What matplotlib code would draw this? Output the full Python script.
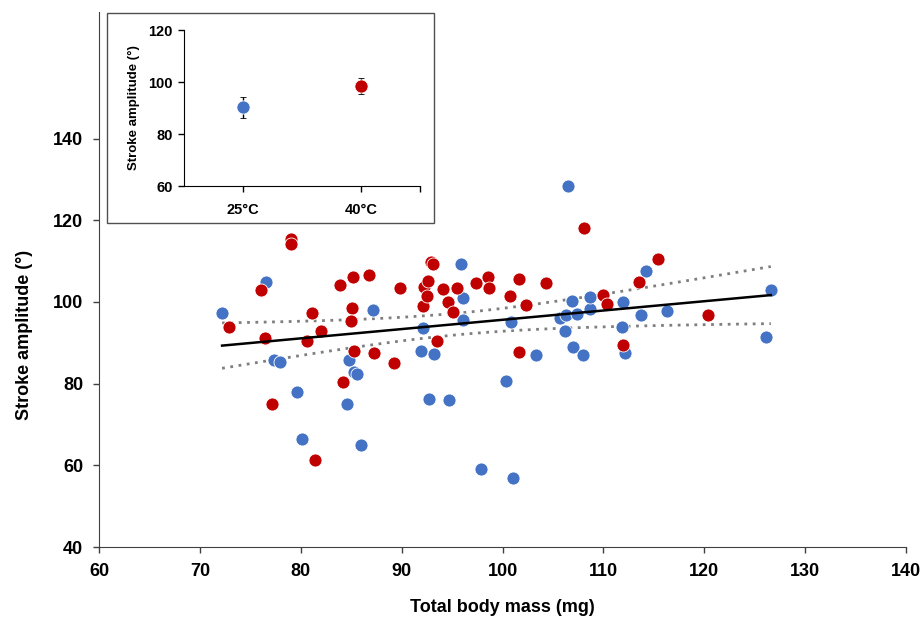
import numpy as np
import matplotlib.pyplot as plt
from matplotlib.patches import Rectangle

plt.rcParams['font.family'] = ['Liberation Sans', 'DejaVu Sans']
plt.rcParams['font.weight'] = 'bold'

# 25°C individuals (blue)
blue_x = [72.2, 76.6, 77.3, 77.9, 79.6, 80.1, 84.8, 84.6, 85.3, 85.6, 86.0, 87.2, 91.9, 92.1,
          92.7, 93.2, 94.7, 95.9, 96.1, 96.1, 97.9, 100.3, 100.8, 101.0, 103.3, 105.7, 106.2,
          106.3, 106.5, 106.9, 107.0, 107.4, 108.0, 108.7, 108.7, 111.9, 111.8, 112.1, 113.7,
          114.2, 116.3, 126.1, 126.6]
blue_y = [97.3, 105.0, 85.7, 85.4, 77.9, 66.4, 85.8, 75.0, 82.8, 82.3, 65.0, 98.0, 88.0, 93.6,
          76.3, 87.3, 75.9, 109.2, 101.0, 95.6, 59.1, 80.6, 95.0, 56.9, 87.1, 96.0, 92.8,
          96.7, 128.3, 100.3, 89.0, 97.0, 87.0, 98.3, 101.2, 100.0, 93.8, 87.6, 96.7,
          107.5, 97.7, 91.4, 103.0]

# 40°C individuals (red)
red_x = [72.9, 76.1, 79.0, 79.0, 76.5, 77.1, 80.6, 81.1, 81.4, 82.0, 83.9, 84.2, 85.2, 85.1,
         85.0, 85.3, 86.8, 87.3, 89.2, 89.8, 92.1, 92.2, 92.5, 92.6, 92.9, 93.1, 93.5, 94.1,
         94.6, 95.1, 95.5, 97.4, 98.6, 98.7, 100.7, 101.6, 101.6, 102.3, 104.3, 108.1, 110.0,
         110.4, 111.9, 113.5, 115.4, 120.4]
red_y = [93.8, 103.0, 115.5, 114.1, 91.2, 75.1, 90.4, 97.3, 61.3, 92.8, 104.1, 80.4, 106.0, 98.5,
         95.3, 88.0, 106.7, 87.4, 85.1, 103.3, 99.0, 103.6, 101.4, 105.2, 109.9, 109.3, 90.5, 103.2,
         100.1, 97.5, 103.5, 104.6, 106.0, 103.4, 101.4, 105.6, 87.8, 99.2, 104.7, 118.0, 101.7,
         99.5, 89.4, 104.9, 110.4, 96.8]

# inset: group means and error
groups = ['25°C', '40°C']
group_mean = [90.2, 98.6]
group_err = [4.0, 3.1]

blue = '#4472C4'
red = '#C00000'

fig = plt.figure(figsize=(9.23, 6.19), dpi=100)
ax = fig.add_axes([0.1073, 0.1163, 0.8743, 0.8643])

ax.scatter(blue_x, blue_y, s=88, color=blue, edgecolors='white', linewidths=0.6, zorder=3)
ax.scatter(red_x, red_y, s=88, color=red, edgecolors='white', linewidths=0.6, zorder=3)

# linear fit with 95% confidence band
x_all = np.array(blue_x + red_x)
y_all = np.array(blue_y + red_y)
n = len(x_all)
slope, icpt = np.polyfit(x_all, y_all, 1)
resid = y_all - (slope * x_all + icpt)
s_err = np.sqrt(np.sum(resid ** 2) / (n - 2))
xs = np.linspace(x_all.min(), x_all.max(), 100)
fit = slope * xs + icpt
band = 1.99 * s_err * np.sqrt(1 / n + (xs - x_all.mean()) ** 2 / np.sum((x_all - x_all.mean()) ** 2))
ax.plot(xs, fit, color='black', lw=1.8, zorder=4)
ax.plot(xs, fit + band, color='#7f7f7f', lw=2, ls=(0, (1, 2)), zorder=2)
ax.plot(xs, fit - band, color='#7f7f7f', lw=2, ls=(0, (1, 2)), zorder=2)

ax.set_xlim(60, 140)
ax.set_ylim(40, 171)
ax.set_xticks(np.arange(60, 141, 10))
ax.set_yticks(np.arange(40, 141, 20))
ax.spines['top'].set_visible(False)
ax.spines['right'].set_visible(False)
ax.spines['left'].set_color('#404040')
ax.spines['bottom'].set_color('#404040')
ax.tick_params(direction='out', length=4.5, width=1, color='#404040', labelsize=13, pad=7)
for lab in ax.get_xticklabels() + ax.get_yticklabels():
    lab.set_fontweight('bold')
ax.set_xlabel('Total body mass (mg)', fontsize=13, fontweight='bold')
ax.set_ylabel('Stroke amplitude (°)', fontsize=13, fontweight='bold')
ax.xaxis.set_label_coords(0.5, -0.097)
ax.yaxis.set_label_coords(-0.082, 0.396)

# inset frame
fig.patches.append(Rectangle((0.1159, 0.6397), 0.3543, 0.3393, transform=fig.transFigure,
                             facecolor='white', edgecolor='#505050', lw=1, zorder=5))

ins = fig.add_axes([0.1993, 0.6995, 0.2557, 0.252])
ins.set_zorder(6)
ins.patch.set_alpha(0)
pos = [0.5, 1.5]
ins.errorbar(pos[0], group_mean[0], yerr=group_err[0], fmt='o', color=blue, ms=9.5,
             ecolor='black', elinewidth=1, capsize=2.5, mec='white', mew=0.6)
ins.errorbar(pos[1], group_mean[1], yerr=group_err[1], fmt='o', color=red, ms=9.5,
             ecolor='black', elinewidth=1, capsize=2.5, mec='white', mew=0.6)
ins.set_xlim(0, 2)
ins.set_ylim(60, 120)
ins.set_yticks([60, 80, 100, 120])
ins.set_xticks([0.5, 1.5, 2.0])
ins.set_xticklabels(groups + [''])
ins.spines['top'].set_visible(False)
ins.spines['right'].set_visible(False)
ins.tick_params(direction='out', length=4, width=1, labelsize=10.5, pad=4)
ins.tick_params(axis='x', pad=8)
for lab in ins.get_xticklabels() + ins.get_yticklabels():
    lab.set_fontweight('bold')
ins.set_ylabel('Stroke amplitude (°)', fontsize=9.5, fontweight='bold', labelpad=6)

fig.savefig('out.png', dpi=100)
